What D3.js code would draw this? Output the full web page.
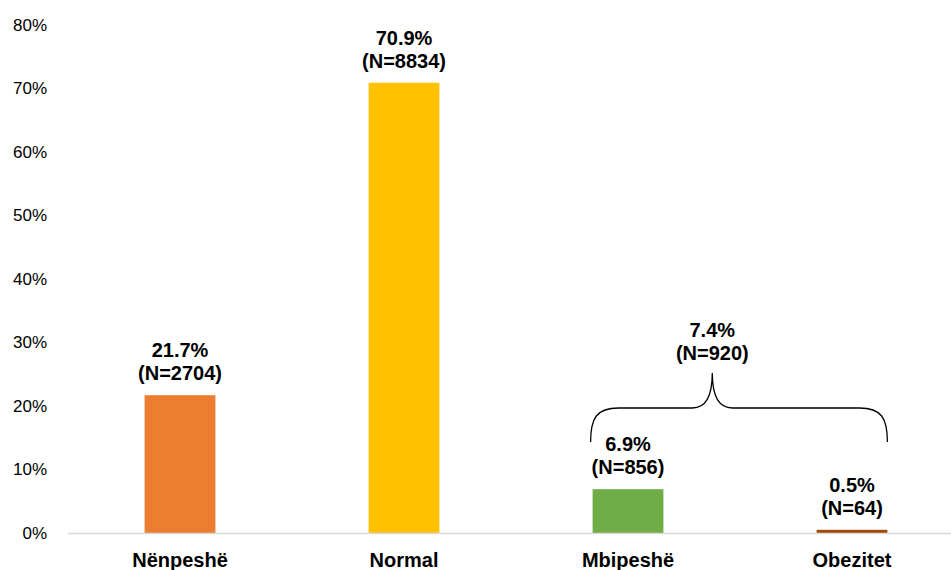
<!DOCTYPE html>
<html>
<head>
<meta charset="utf-8">
<script src="https://cdn.jsdelivr.net/npm/d3@7"></script>
<style>
  html, body { margin: 0; padding: 0; background: #fff; }
  svg { display: block; }
  text { font-family: "Liberation Sans", Arial, sans-serif; }
</style>
</head>
<body>
<svg id="chart" width="951" height="570"></svg>
<script>
// BMI categories, share of respondents and counts
const categories = ["Nënpeshë", "Normal", "Mbipeshë", "Obezitet"];
const shares = [21.7, 70.9, 6.9, 0.5];
const counts = [2704, 8834, 856, 64];
const colors = ["#ED7D31", "#FFC000", "#70AD47", "#9E480E"];
const yTicks = [0, 10, 20, 30, 40, 50, 60, 70, 80];

// Combined group (overweight + obese) shown with a brace
const groupMembers = ["Mbipeshë", "Obezitet"];
const groupShare = 7.4;
const groupCount = 920;

const W = 951, H = 570;
const svg = d3.select("#chart");

const x = d3.scaleBand().domain(categories).range([68, 964]).padding(0);
const y = d3.scaleLinear().domain([0, 80]).range([533, 25]);
const barW = x.bandwidth() * 0.316;
const bx = c => x(c) + (x.bandwidth() - barW) / 2;

// Y axis labels (no axis line, no gridlines)
const yAxis = d3.axisLeft(y).tickValues(yTicks).tickFormat(d => d + "%").tickSize(0).tickPadding(0);
const gy = svg.append("g").attr("transform", "translate(47,0)").call(yAxis);
gy.select(".domain").remove();
gy.selectAll("text")
  .attr("font-size", 17)
  .attr("fill", "#000")
  .attr("font-family", "Liberation Sans, Arial, sans-serif");

// Bars
svg.selectAll("rect.bar")
  .data(categories)
  .join("rect")
  .attr("class", "bar")
  .attr("x", d => bx(d))
  .attr("width", barW)
  .attr("y", (d, i) => y(shares[i]))
  .attr("height", (d, i) => y(0) - y(shares[i]))
  .attr("fill", (d, i) => colors[i]);

// Baseline
svg.append("line")
  .attr("x1", 68).attr("x2", W)
  .attr("y1", y(0) + 0.5).attr("y2", y(0) + 0.5)
  .attr("stroke", "#D9D9D9").attr("stroke-width", 1.5);

// Category labels
const xAxis = d3.axisBottom(x).tickSize(0).tickPadding(0);
const gx = svg.append("g").attr("transform", `translate(0,${y(0)})`).call(xAxis);
gx.select(".domain").remove();
gx.selectAll("text")
  .attr("dy", null)
  .attr("y", 34)
  .attr("font-size", 20)
  .attr("font-weight", "bold")
  .attr("fill", "#000")
  .attr("font-family", "Liberation Sans, Arial, sans-serif");

// Value labels
const labels = svg.selectAll("g.vlabel")
  .data(categories)
  .join("g")
  .attr("class", "vlabel")
  .attr("transform", (d, i) => `translate(${x(d) + x.bandwidth() / 2},${y(shares[i]) - 15})`);
labels.append("text")
  .attr("text-anchor", "middle").attr("font-size", 20).attr("font-weight", "bold")
  .attr("y", -23)
  .text((d, i) => shares[i].toFixed(1) + "%");
labels.append("text")
  .attr("text-anchor", "middle").attr("font-size", 20).attr("font-weight", "bold")
  .attr("y", 0)
  .text((d, i) => `(N=${counts[i]})`);

// Brace over the grouped categories; its point sits a little left of centre
const gx0 = bx(groupMembers[0]) - 2;
const gx1 = bx(groupMembers[groupMembers.length - 1]) + barW;
const tip = gx0 + (gx1 - gx0) * 0.41;
const yEnd = 442, yFlat = 408, yTip = 373;
const r = 28;
const brace = `M${gx0},${yEnd}
  C${gx0},${yFlat + 10} ${gx0 + 6},${yFlat} ${gx0 + r},${yFlat}
  L${tip - r + 8},${yFlat}
  C${tip - 6},${yFlat} ${tip},${yFlat - 12} ${tip},${yTip}
  C${tip},${yFlat - 12} ${tip + 6},${yFlat} ${tip + r - 8},${yFlat}
  L${gx1 - r},${yFlat}
  C${gx1 - 6},${yFlat} ${gx1},${yFlat + 10} ${gx1},${yEnd}`;
svg.append("path")
  .attr("d", brace)
  .attr("fill", "none")
  .attr("stroke", "#000")
  .attr("stroke-width", 1.3);

svg.append("text")
  .attr("x", tip).attr("y", yTip - 36)
  .attr("text-anchor", "middle").attr("font-size", 20).attr("font-weight", "bold")
  .text(groupShare.toFixed(1) + "%");
svg.append("text")
  .attr("x", tip).attr("y", yTip - 13)
  .attr("text-anchor", "middle").attr("font-size", 20).attr("font-weight", "bold")
  .text(`(N=${groupCount})`);
</script>
</body>
</html>
